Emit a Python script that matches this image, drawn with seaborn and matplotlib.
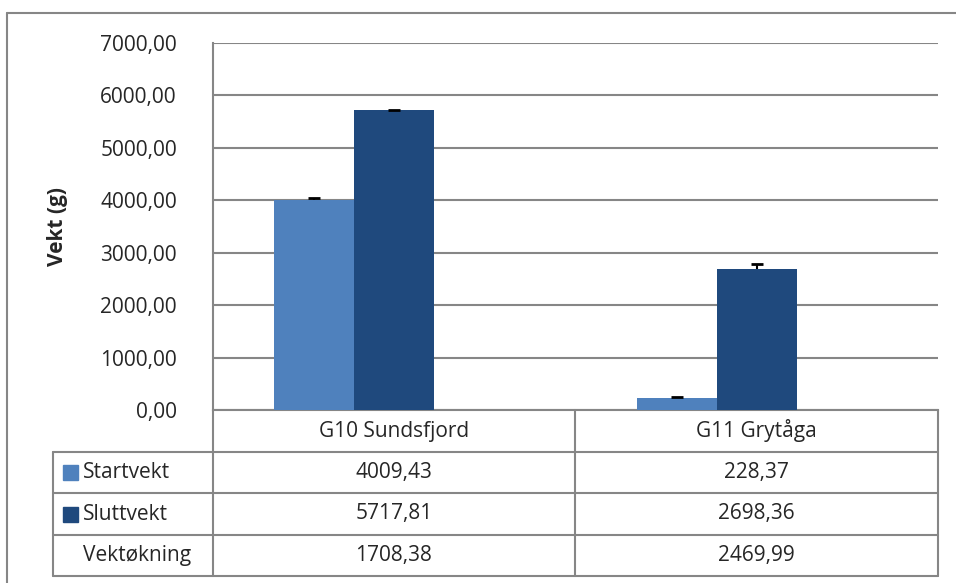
import pandas as pd
import matplotlib.pyplot as plt
import seaborn as sns
from matplotlib.patches import Rectangle

# data
categories = ['G10 Sundsfjord', 'G11 Grytåga']
series = ['Startvekt', 'Sluttvekt', 'Vektøkning']
startvekt = [4009.43, 228.37]
sluttvekt = [5717.81, 2698.36]
vektokning = [1708.38, 2469.99]
start_err = [30, 12]
slutt_err = [10, 80]
yticks = [0, 1000, 2000, 3000, 4000, 5000, 6000, 7000]

colors = {'Startvekt': '#4F81BD', 'Sluttvekt': '#1F497D', 'Vektøkning': '#FFFFFF'}

df = pd.DataFrame({
    'gruppe': categories * 3,
    'serie': [s for s in series for _ in categories],
    'vekt': startvekt + sluttvekt + vektokning,
})

sns.set_theme(style='white')
plt.rcParams['font.family'] = ['Open Sans', 'DejaVu Sans']
FS = 15

W, H = 956, 583
fig = plt.figure(figsize=(W / 100, H / 100), dpi=100)

# plot area in pixels: x 213..938, y 43..410
ax = fig.add_axes([213 / W, 1 - 410 / H, (938 - 213) / W, (410 - 43) / H])
sns.barplot(data=df, x='gruppe', y='vekt', hue='serie', order=categories,
            hue_order=series, palette=colors, saturation=1, width=0.662,
            errorbar=None, linewidth=0, legend=False, ax=ax, zorder=3)

# Vektøkning is only in the table, its bars are hidden
for bar in ax.containers[2]:
    bar.set_visible(False)

# error bars (plus direction only)
for cont, errs in [(ax.containers[0], start_err), (ax.containers[1], slutt_err)]:
    for bar, e in zip(cont, errs):
        cx = bar.get_x() + bar.get_width() / 2
        top = bar.get_height()
        _, caps, _ = ax.errorbar(cx, top, yerr=[[0], [e]], fmt='none', ecolor='black',
                                 elinewidth=1.5, capsize=4, capthick=2, zorder=4)
        for c in caps:
            if c.get_ydata()[0] <= top:
                c.set_visible(False)

ax.set_ylim(0, 7000)
ax.set_xlim(-0.5, 1.5)
ax.set_yticks(yticks)
ax.set_yticklabels([f'{v:.2f}'.replace('.', ',') for v in yticks], fontsize=FS)
ax.set_xticks([])
ax.set_xlabel('')
ax.set_ylabel('')
ax.yaxis.grid(True, color='#868686', linewidth=1.5, zorder=0)
ax.tick_params(axis='y', length=0, pad=26)
for side in ['top', 'right']:
    ax.spines[side].set_visible(False)
for side in ['left', 'bottom']:
    ax.spines[side].set_color('#868686')
    ax.spines[side].set_linewidth(1.5)

fig.text(58 / W, 1 - 226 / H, 'Vekt (g)', rotation=90, fontsize=FS,
         fontweight='bold', ha='center', va='center')

# overlay in pixel coordinates for the data table and chart frame
ov = fig.add_axes([0, 0, 1, 1])
ov.set_xlim(0, W)
ov.set_ylim(H, 0)
ov.axis('off')

line_kw = dict(color='#868686', linewidth=1.5)
ov.plot([7, W], [13, 13], **line_kw)
ov.plot([7, 7], [13, H], **line_kw)

rows_y = [410, 452, 493, 535, 576]
col_x = [53, 213, 575, 938]
for y in rows_y[1:]:
    ov.plot([53, 938], [y, y], **line_kw)
for x in col_x[1:]:
    ov.plot([x, x], [410, 576], **line_kw)
ov.plot([53, 53], [452, 576], **line_kw)

for i, cat in enumerate(categories):
    cx = (col_x[i + 1] + col_x[i + 2]) / 2
    ov.text(cx, (rows_y[0] + rows_y[1]) / 2, cat, fontsize=FS, ha='center', va='center')

table_rows = [startvekt, sluttvekt, vektokning]
for r, (name, vals) in enumerate(zip(series, table_rows)):
    cy = (rows_y[r + 1] + rows_y[r + 2]) / 2
    if name != 'Vektøkning':
        ov.add_patch(Rectangle((63, cy - 7.5), 15, 15, color=colors[name]))
    ov.text(83, cy, name, fontsize=FS, ha='left', va='center')
    for i, v in enumerate(vals):
        cx = (col_x[i + 1] + col_x[i + 2]) / 2
        ov.text(cx, cy, f'{v:.2f}'.replace('.', ','), fontsize=FS, ha='center', va='center')

fig.savefig('out.png', dpi=100)
